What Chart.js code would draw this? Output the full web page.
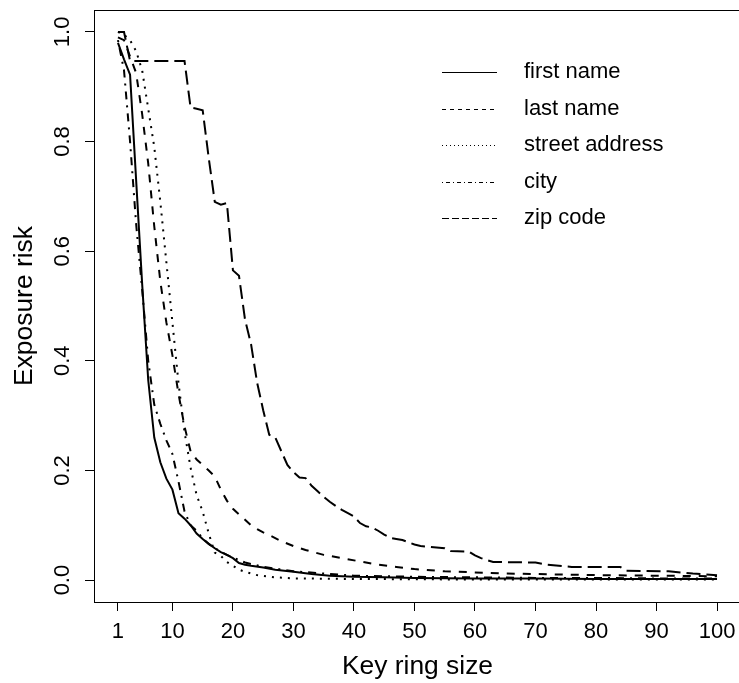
<!DOCTYPE html>
<html><head><meta charset="utf-8">
<script src="https://cdn.jsdelivr.net/npm/chart.js@4.4.0/dist/chart.umd.min.js"></script>
<style>
html,body{margin:0;padding:0;overflow:hidden;background:#fff;width:739px;height:683px}
#wrap{width:745px;height:683px}
</style></head>
<body><div id="wrap"><canvas id="c" width="745" height="683"></canvas></div>
<script>
// ---- data ----
const xTicks = [1,10,20,30,40,50,60,70,80,90,100];
const yTicks = [0,0.2,0.4,0.6,0.8,1.0];
const seriesLabels = ['first name','last name','street address','city','zip code'];

const firstNameX = [1,2,3,4,5,6,7,8,9,10,11,12,13,14,15,16,17,18,19,20,21,22,23,25,27,30,33,36,40,45,50,60,70,80,90,100];
const firstNameY = [0.98,0.95,0.922,0.73,0.54,0.365,0.26,0.215,0.185,0.165,0.122,0.112,0.1,0.085,0.075,0.066,0.058,0.051,0.046,0.04,0.031,0.028,0.026,0.023,0.019,0.015,0.011,0.008,0.006,0.005,0.004,0.003,0.003,0.002,0.002,0.002];

const lastNameX = [1,2,3,4,5,6,7,8,9,10,11,12,13,14,15,16,17,18,19,20,21,22,23,24,25,26,28,30,32,35,38,41,44,47,50,55,60,65,70,80,90,100];
const lastNameY = [0.99,0.985,0.955,0.925,0.85,0.76,0.645,0.545,0.47,0.41,0.34,0.28,0.235,0.22,0.21,0.2,0.189,0.165,0.145,0.13,0.12,0.11,0.1,0.093,0.087,0.082,0.071,0.062,0.055,0.046,0.04,0.034,0.028,0.024,0.02,0.016,0.014,0.012,0.011,0.009,0.008,0.007];

const streetX = [1,2,3,4,5,6,7,8,9,10,11,12,13,14,15,16,17,18,19,20,21,22,24,27,30,40,60,100];
const streetY = [1.0,0.995,0.985,0.965,0.93,0.86,0.79,0.69,0.58,0.47,0.36,0.27,0.205,0.155,0.125,0.085,0.05,0.044,0.033,0.026,0.019,0.015,0.009,0.005,0.003,0.002,0.001,0.001];

const cityX = [1,2,3,4,5,6,7,8,9,10,11,12,13,14,15,16,17,18,19,20,22,25,30,40,50,60,70,80,90,100];
const cityY = [0.985,0.93,0.8,0.65,0.53,0.4,0.32,0.285,0.255,0.23,0.18,0.125,0.1,0.09,0.076,0.066,0.058,0.052,0.046,0.041,0.032,0.024,0.016,0.008,0.006,0.005,0.004,0.004,0.003,0.003];

const zipX = [1,2,3,12,13,14,15,16,17,18,19,20,21,22,23,24,25,26,27,28,29,30,31,32,33,34,35,36,37,38,39,40,41,42,43,44,45,46,47,48,50,51,55,56,59,60,61,63,70,72,76,84,85,92,96,100];
const zipY = [1.0,1.0,0.947,0.947,0.862,0.86,0.857,0.77,0.69,0.685,0.688,0.565,0.555,0.475,0.43,0.36,0.31,0.265,0.26,0.235,0.21,0.197,0.187,0.186,0.172,0.162,0.152,0.143,0.135,0.128,0.122,0.116,0.104,0.098,0.096,0.09,0.083,0.077,0.075,0.073,0.065,0.062,0.058,0.053,0.052,0.045,0.04,0.033,0.032,0.028,0.024,0.024,0.017,0.016,0.012,0.009];

// ---- styles ----
const FONT = "'Liberation Sans', Arial, Helvetica, sans-serif";
const plotDashes = [[], [8,8], [2,6], [2,6,8,6], [14,6]];
const legendDashes = [[], [4,4], [1,3], [1,3,4,3], [7,3]];

function pts(xs, ys){ return xs.map((x,i)=>({x:x, y:ys[i]})); }
const seriesData = [pts(firstNameX,firstNameY), pts(lastNameX,lastNameY), pts(streetX,streetY), pts(cityX,cityY), pts(zipX,zipY)];

const datasets = seriesData.map((d,i)=>({
  label: seriesLabels[i], data: d, borderColor:'#000', backgroundColor:'#000',
  borderWidth:2, borderDash: plotDashes[i], pointRadius:0, tension:0, fill:false,
  borderCapStyle:'butt', borderJoinStyle:'miter'
}));

const boxLegend = {
  id:'boxLegend',
  afterDraw(chart){
    const ctx = chart.ctx, a = chart.chartArea;
    ctx.save();
    ctx.strokeStyle = '#000'; ctx.lineWidth = 1; ctx.setLineDash([]);
    ctx.strokeRect(Math.round(a.left)+0.5, Math.round(a.top)+0.5, Math.round(a.right-a.left), Math.round(a.bottom-a.top));
    // legend
    const x0 = 442, x1 = 497, tx = 524, y0 = 72, dy = 36.5;
    ctx.font = '22px ' + FONT; ctx.fillStyle = '#000';
    ctx.textBaseline = 'middle'; ctx.textAlign = 'left';
    chart.data.datasets.forEach((ds,i)=>{
      const y = Math.round(y0 + i*dy) + 0.5;
      ctx.setLineDash(legendDashes[i]); ctx.lineWidth = 1;
      ctx.beginPath(); ctx.moveTo(x0,y); ctx.lineTo(x1,y); ctx.stroke();
      ctx.setLineDash([]);
      ctx.fillText(ds.label, tx, y0 + i*dy);
    });
    ctx.restore();
  }
};

new Chart(document.getElementById('c'), {
  type:'line',
  data:{datasets},
  options:{
    responsive:false, animation:false,
    layout:{padding:{left:0,right:4,top:10,bottom:0}},
    plugins:{legend:{display:false}, tooltip:{enabled:false}},
    scales:{
      x:{
        type:'linear', min:-2.96, max:103.96,
        afterBuildTicks: s => { s.ticks = xTicks.map(v=>({value:v})); },
        afterFit: s => { s.height = 81; s.paddingLeft = 0; s.paddingRight = 0; },
        ticks:{font:{family:FONT,size:22}, color:'#000', padding:8, maxRotation:0, minRotation:0, autoSkip:false, callback: v => String(v)},
        grid:{display:true, drawOnChartArea:false, drawTicks:true, tickLength:9, color:'#000', tickColor:'#000'},
        border:{display:true, color:'#000'},
        title:{display:true, text:'Key ring size', font:{family:FONT,size:26.4}, color:'#000', padding:{top:0,bottom:0}}
      },
      y:{
        type:'linear', min:-0.04, max:1.04,
        afterBuildTicks: s => { s.ticks = yTicks.map(v=>({value:v})); },
        afterFit: s => { s.width = 94; s.paddingTop = 0; s.paddingBottom = 0; },
        ticks:{font:{family:FONT,size:22}, color:'#000', padding:7, minRotation:90, maxRotation:90, crossAlign:'center', autoSkip:false, callback: v => Number(v).toFixed(1)},
        grid:{display:true, drawOnChartArea:false, drawTicks:true, tickLength:9, color:'#000', tickColor:'#000'},
        border:{display:true, color:'#000'},
        title:{display:true, text:'Exposure risk', font:{family:FONT,size:26.4}, color:'#000', padding:{top:9,bottom:0}}
      }
    }
  },
  plugins:[boxLegend]
});
</script>
</body></html>
